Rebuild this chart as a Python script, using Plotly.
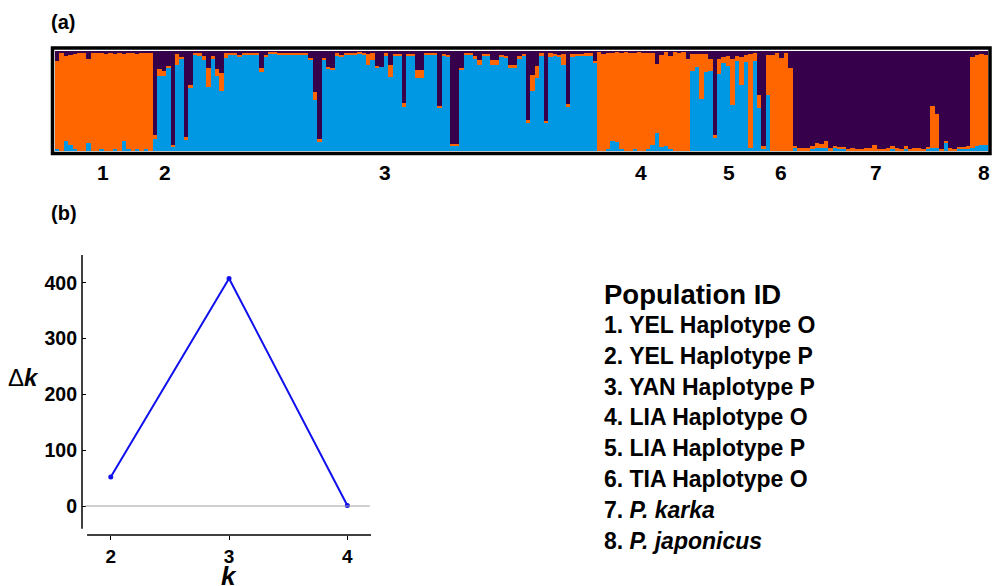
import plotly.graph_objects as go

# ---------------- data: STRUCTURE (K=3) admixture proportions ----------------
# per individual: blue (cluster 1) and orange (cluster 2); purple = remainder
pop1_blue = [.02,.01,.10,.06,.02,.01,.01,.08,.01,.01,.02,.01,.01,.02,.01,.10,.02,.01,.02,.01,.02,.01]
pop1_orange = [.88,.97,.85,.90,.95,.97,.97,.84,.97,.97,.96,.96,.97,.95,.97,.87,.96,.97,.95,.97,.96,.97]

pop2_blue = [.12,.75,.75,.84,.04,.86]
pop2_orange = [.04,.07,.05,.01,.02,.11]

pop3_blue = [.93,.11,.63,.96,.95,.91,.64,.92,.75,.60,.93,.96,.96,
             .95,.96,.97,.97,.97,.79,.95,.97,.98,.97,.97,.97,.97,.97,.97,.97,.92,.51,.09,.92,.83,.82,
             .95,.95,.97,.97,.97,.97,.97,.86,.91,.84,.84,.95,.74,.95,.96,.44,.96,.96,.73,.73,.97,
             .97,.97,.43,.95,.95,.05,.05,.81,.96,.96,.92,.86,.95,.95,.86,.86,.94,.94,.83,.83,.92,.95,
             .28,.60,.73,.95,.28,.94,.95,.94,.86,.44,.94,.95,.95,.95,.95,.88]
pop3_orange = [.01,.03,.03,.02,.03,.04,.19,.03,.07,.18,.05,.02,.02,
               .01,.02,.01,.01,.01,.04,.01,.02,.01,.01,.01,.01,.01,.01,.01,.01,.01,.08,.03,.01,.01,.01,
               .03,.01,.01,.01,.01,.02,.01,.11,.07,.01,.00,.03,.12,.02,.01,.04,.01,.01,.08,.08,.01,
               .01,.01,.02,.02,.01,.02,.02,.02,.02,.02,.03,.05,.02,.02,.05,.05,.02,.01,.03,.03,.03,.02,
               .03,.16,.12,.03,.02,.04,.02,.02,.11,.03,.03,.02,.02,.03,.03,.02]

pop4_blue = [.01,.01,.02,.10,.09,.02,.01,.01,.02,.01,.01,.02,.06,.18,.04,.05,.02,.01,.01,.01,.01]
pop4_orange = [.98,.96,.96,.88,.90,.96,.98,.97,.96,.98,.97,.96,.92,.69,.92,.94,.93,.98,.97,.98,.91]

pop5_blue = [.80,.84,.52,.79,.80,.13,.77,.88,.85,.46,.90,.66,.89,.03,.90,.43,.02,.56]
pop5_orange = [.17,.13,.45,.18,.12,.03,.15,.06,.10,.46,.05,.28,.07,.94,.08,.13,.03,.40]

pop6_blue = [.01,.01,.01,.01,.01]
pop6_orange = [.95,.97,.92,.97,.82]

pop7_blue = [.04,.01,.01,.01,.02,.03,.03,.03,.01,.03,.02,.02,.01,.01,.01,.01,.01,.01,.01,.01,
             .01,.01,.02,.01,.01,.02,.01,.01,.01,.01,.02,.03,.03,.01,.08,.01,.01,.03,.02,.02]
pop7_orange = [.01,.02,.02,.02,.03,.05,.04,.07,.02,.02,.02,.02,.01,.02,.01,.01,.02,.02,.05,.01,
               .01,.02,.03,.02,.01,.03,.01,.02,.02,.01,.02,.42,.34,.01,.02,.02,.01,.01,.02,.03]

pop8_blue = [.03,.05,.06,.06]
pop8_orange = [.91,.91,.91,.90]

pop_labels = ["1", "2", "3", "4", "5", "6", "7", "8"]
pop_label_pos = [10.3, 24.3, 73.8, 131.5, 151.3, 162.8, 184.4, 208.5]

# ---------------- data: Evanno delta K ----------------
k_vals = [2, 3, 4]
delta_k = [52, 408, 1]
y_ticks = [0, 100, 200, 300, 400]

legend_title = "Population ID"
legend_lines = ["1. YEL Haplotype O", "2. YEL Haplotype P", "3. YAN Haplotype P",
                "4. LIA Haplotype O", "5. LIA Haplotype P", "6. TIA Haplotype O",
                "7. <i>P. karka</i>", "8. <i>P. japonicus</i>"]

# ---------------- assemble ----------------
blue = (pop1_blue + pop2_blue + pop3_blue + pop4_blue + pop5_blue + pop6_blue + pop7_blue + pop8_blue)
orange = (pop1_orange + pop2_orange + pop3_orange + pop4_orange + pop5_orange + pop6_orange
          + pop7_orange + pop8_orange)
purple = [max(0.0, 1 - b - o) for b, o in zip(blue, orange)]
idx = list(range(len(blue)))
N = len(idx)

# page body has an 8px margin; figure sized to fill the rest of the window
OFF = 8
W, H = 992, 578
def fx(p):
    return (p - OFF) / W
def fy(p):
    return 1 - (p - OFF) / H

BLUE = "#0098E2"
ORANGE = "#FF6600"
PURPLE = "#36004A"
LINE_BLUE = "#1010EE"
FONT = "Liberation Sans, Arial, sans-serif"

fig = go.Figure()
for vals, col in [(blue, BLUE), (orange, ORANGE), (purple, PURPLE)]:
    fig.add_trace(go.Bar(x=idx, y=vals, width=1.0, marker=dict(color=col, line=dict(width=0)),
                         xaxis="x", yaxis="y", showlegend=False, hoverinfo="skip"))

fig.add_trace(go.Scatter(x=k_vals, y=delta_k, mode="lines+markers",
                         line=dict(color=LINE_BLUE, width=2),
                         marker=dict(color=LINE_BLUE, size=5),
                         xaxis="x2", yaxis="y2", showlegend=False))

shapes = [
    dict(type="rect", xref="paper", yref="paper", x0=fx(52.5), x1=fx(990), y0=fy(153.5), y1=fy(48),
         line=dict(color="black", width=3.5)),
    dict(type="line", xref="x2", yref="y2 domain", x0=1.8, x1=4.2, y0=0, y1=0,
         line=dict(color="black", width=1.5)),
    dict(type="line", xref="x2 domain", yref="y2", x0=0, x1=0, y0=-41, y1=450,
         line=dict(color="black", width=1.5)),
    dict(type="line", xref="x2", yref="y2", x0=1.785, x1=4.19, y0=0, y1=0,
         line=dict(color="#A0A0A0", width=1)),
]

def ann(text, x, y, size, xref="paper", yref="paper", xanchor="center"):
    return dict(text=text, x=x, y=y, xref=xref, yref=yref, xanchor=xanchor, yanchor="middle",
                showarrow=False, font=dict(family=FONT, size=size, color="black"))

annotations = [
    ann("<b>(a)</b>", fx(63), fy(22), 20),
    ann("<b>(b)</b>", fx(64), fy(213), 20),
]
for lab, pos in zip(pop_labels, pop_label_pos):
    annotations.append(ann("<b>%s</b>" % lab, pos, fy(172), 21, xref="x"))
annotations.append(ann("Δ<b><i>k</i></b>", fx(23), fy(377), 24))
annotations.append(ann("<b><i>k</i></b>", 3, fy(576), 26, xref="x2"))
annotations.append(ann("<b>%s</b>" % legend_title, fx(602), fy(294), 27.5, xanchor="left"))
for i, line in enumerate(legend_lines):
    annotations.append(ann("<b>%s</b>" % line, fx(602), fy(325 + i * 30.8), 23, xanchor="left"))

fig.update_layout(
    width=W, height=H, margin=dict(l=0, r=0, t=0, b=0),
    paper_bgcolor="white", plot_bgcolor="white",
    barmode="stack", bargap=0,
    xaxis=dict(domain=[fx(55), fx(988)], range=[-0.5, N - 0.5], visible=False, fixedrange=True),
    yaxis=dict(domain=[fy(151), fy(50.5)], range=[0, 1], visible=False, fixedrange=True),
    xaxis2=dict(domain=[fx(82), fx(371)], range=[1.757, 4.2], anchor="y2",
                tickvals=k_vals, ticks="outside", ticklen=4, tickcolor="black",
                tickfont=dict(family=FONT, size=19, color="black", weight="bold"),
                showgrid=False, zeroline=False, showline=False),
    yaxis2=dict(domain=[fy(535), fy(255)], range=[-52, 450], anchor="x2",
                tickvals=y_ticks, ticks="inside", ticklen=4, tickcolor="black",
                ticklabelstandoff=4,
                tickfont=dict(family=FONT, size=19.5, color="black", weight="bold"),
                showgrid=False, zeroline=False, showline=False),
    shapes=shapes, annotations=annotations,
    font=dict(family=FONT, color="black"),
)

fig.write_html("out.html")
